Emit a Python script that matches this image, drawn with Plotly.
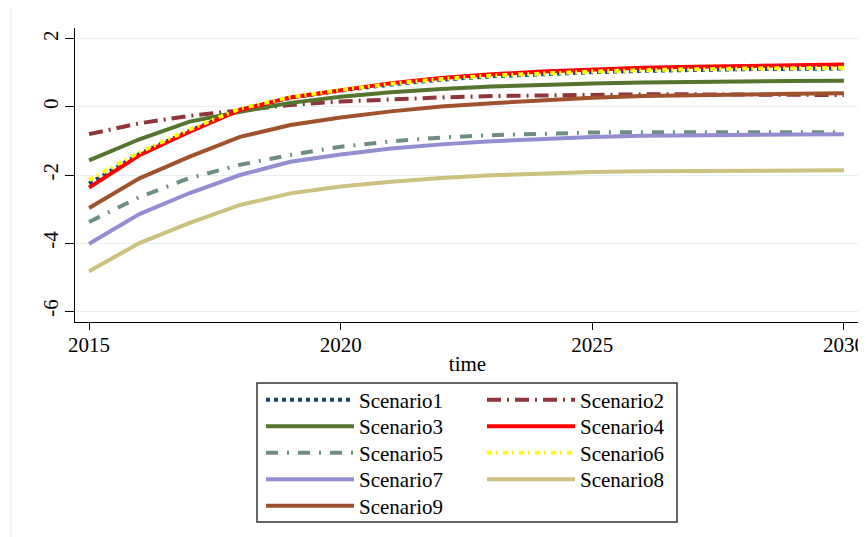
import plotly.graph_objects as go

years = list(range(2015, 2031))

scenario1 = [-2.25, -1.38, -0.70, -0.08, 0.27, 0.48, 0.66, 0.80, 0.90, 0.97, 1.02, 1.06, 1.09, 1.11, 1.12, 1.13]
scenario2 = [-0.80, -0.48, -0.26, -0.10, 0.06, 0.16, 0.23, 0.28, 0.32, 0.34, 0.36, 0.37, 0.37, 0.36, 0.36, 0.35]
scenario3 = [-1.57, -0.95, -0.43, -0.14, 0.12, 0.30, 0.43, 0.53, 0.60, 0.65, 0.69, 0.72, 0.74, 0.75, 0.76, 0.77]
scenario4 = [-2.37, -1.42, -0.73, -0.09, 0.28, 0.50, 0.70, 0.85, 0.96, 1.04, 1.10, 1.15, 1.18, 1.21, 1.23, 1.25]
scenario5 = [-3.38, -2.65, -2.09, -1.70, -1.41, -1.17, -1.01, -0.90, -0.83, -0.78, -0.75, -0.74, -0.74, -0.74, -0.74, -0.74]
scenario6 = [-2.15, -1.33, -0.66, -0.05, 0.29, 0.50, 0.68, 0.82, 0.92, 0.99, 1.04, 1.08, 1.11, 1.13, 1.14, 1.15]
scenario7 = [-4.02, -3.15, -2.53, -2.00, -1.61, -1.40, -1.22, -1.10, -1.01, -0.94, -0.88, -0.85, -0.83, -0.82, -0.81, -0.80]
scenario8 = [-4.83, -4.00, -3.41, -2.88, -2.54, -2.34, -2.20, -2.09, -2.01, -1.95, -1.91, -1.89, -1.88, -1.87, -1.86, -1.86]
scenario9 = [-2.97, -2.10, -1.46, -0.88, -0.53, -0.31, -0.13, 0.01, 0.11, 0.20, 0.27, 0.32, 0.35, 0.37, 0.39, 0.40]

names = ["Scenario1", "Scenario2", "Scenario3", "Scenario4", "Scenario5",
         "Scenario6", "Scenario7", "Scenario8", "Scenario9"]
series = [scenario1, scenario2, scenario3, scenario4, scenario5,
          scenario6, scenario7, scenario8, scenario9]
colors = ["#1a476f", "#90353b", "#55752f", "#ff0000", "#6e8e84",
          "#ffff00", "#938dd2", "#cac27e", "#a0522d"]
dashes = ["4px,4px", "14px,6px,2px,6px", "solid", "solid", "12px,9px,2px,9px",
          "5px,4px,2px,5px", "solid", "solid", "solid"]
legend_ids = ["legend", "legend", "legend2", "legend2", "legend3",
              "legend3", "legend4", "legend4", "legend5"]

yticks = [-6, -4, -2, 0, 2]
xticks = [2015, 2020, 2025, 2030]

FONT = "Liberation Serif, Times New Roman, serif"
# The page body has an 8px default margin: size the figure so that the
# window coordinates line up with the reference picture.
OFF = 8
WIN_W, WIN_H = 866, 537
W, H = WIN_W - OFF, WIN_H - OFF
# plot area in window pixels: x 75..860, y 28..322
L, R, T, B = 75 - OFF, WIN_W - 860, 28 - OFF, WIN_H - 322
PW, PH = W - L - R, H - T - B


def px_x(p):  # window px -> paper x
    return (p - OFF - L) / PW


def px_y(p):  # window px -> paper y
    return (H - B - (p - OFF)) / PH


fig = go.Figure()
for name, vals, col, dash, lg in zip(names, series, colors, dashes, legend_ids):
    fig.add_trace(go.Scatter(
        x=years, y=vals, mode="lines", name=name,
        line=dict(color=col, width=4, dash=dash),
        legend=lg,
    ))

row_y = [400, 426.5, 453, 479.5, 506]
legend_common = dict(
    orientation="h", xanchor="left", yanchor="middle",
    xref="container", yref="container",
    font=dict(family=FONT, size=21, color="black"),
    bgcolor="rgba(0,0,0,0)", borderwidth=0,
    itemwidth=88, entrywidth=118, entrywidthmode="pixels",
    tracegroupgap=0,
)
legends = {}
for i, ry in enumerate(row_y):
    key = "legend" if i == 0 else f"legend{i + 1}"
    legends[key] = dict(legend_common, x=(261 - OFF) / W, y=1 - (ry - OFF) / H)

fig.update_layout(
    width=W, height=H,
    margin=dict(l=L, r=R, t=T, b=B, autoexpand=False),
    paper_bgcolor="white", plot_bgcolor="white",
    font=dict(family=FONT, size=21, color="black"),
    showlegend=True,
    **legends,
    xaxis=dict(
        range=[2014.72, 2030.32], tickvals=xticks, ticktext=[str(t) for t in xticks],
        showline=True, linecolor="black", linewidth=1.2,
        ticks="outside", ticklen=7, tickcolor="black", tickwidth=1.2,
        showgrid=False, zeroline=False, automargin=False,
        ticklabelstandoff=-3,
        title=dict(text="time", font=dict(family=FONT, size=21), standoff=0),
        tickfont=dict(family=FONT, size=21),
    ),
    yaxis=dict(
        range=[-6.32, 2.32], tickvals=yticks, ticktext=[str(t) for t in yticks],
        showline=True, linecolor="black", linewidth=1.2,
        ticks="outside", ticklen=9, tickcolor="black", tickwidth=1.2,
        showgrid=True, gridcolor="#e6eff1", gridwidth=1.2, zeroline=False,
        automargin=False, ticklabelstandoff=-1,
        tickangle=-90, tickfont=dict(family=FONT, size=21),
    ),
    shapes=[
        dict(type="rect", xref="paper", yref="paper",
             x0=px_x(257), x1=px_x(677), y0=px_y(383), y1=px_y(522),
             line=dict(color="#333333", width=1.5), fillcolor="rgba(0,0,0,0)"),
        dict(type="line", xref="paper", yref="paper",
             x0=px_x(11), x1=px_x(11), y0=px_y(8), y1=px_y(537),
             line=dict(color="#e4eef0", width=1.2)),
    ],
)

fig.write_html("out.html")
